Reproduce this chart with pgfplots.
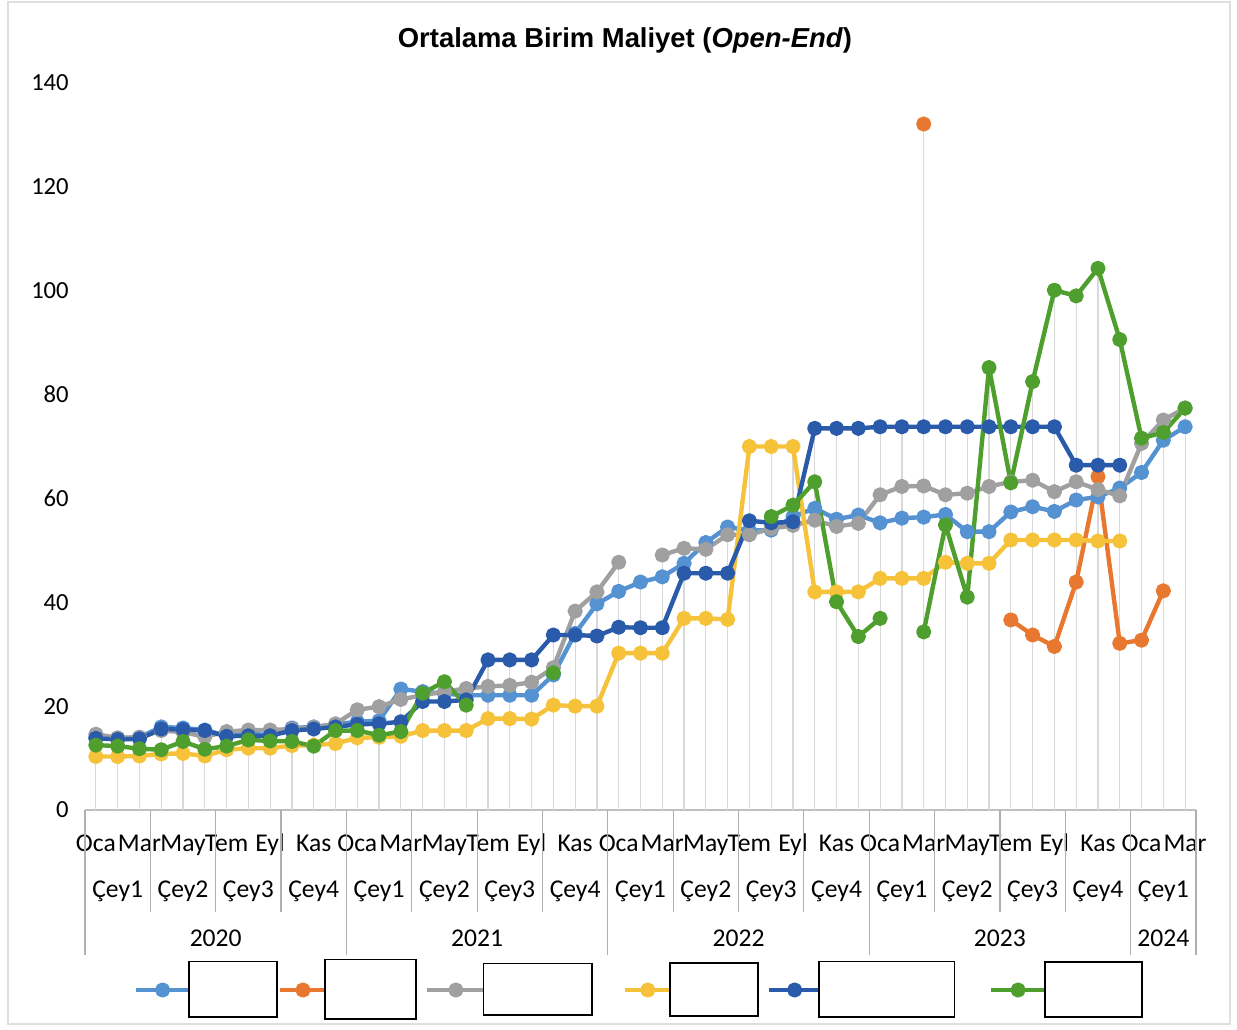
\documentclass[border=0pt]{standalone}
\usepackage{fontspec}
\setmainfont{Carlito}
\newfontfamily\titlefont{Liberation Sans}
\usepackage{pgfplots}
\usepackage{pgfplotstable}
\pgfplotsset{compat=1.18}
\pgfplotsset{limg/.style n args={2}{legend image code/.code={\draw[mark repeat=2,mark phase=2,##1] plot coordinates {(0pt,0pt) (#1,0pt) (#2,0pt)};}}}
\definecolor{cLB}{HTML}{5592D2}
\definecolor{cOR}{HTML}{E8782F}
\definecolor{cGR}{HTML}{A0A0A0}
\definecolor{cYE}{HTML}{F5C23A}
\definecolor{cDB}{HTML}{2A5BAA}
\definecolor{cGN}{HTML}{4F9F2F}
\definecolor{sepcol}{HTML}{B0B0B0}
\newcommand\lblfont{\fontsize{12.8}{15}\selectfont}
\newcommand\qq[2]{\node[anchor=base,font=\lblfont] at ([yshift=-43.5pt]axis cs:#1,0) {#2};}
\newcommand\yy[2]{\node[anchor=base,font=\lblfont] at ([yshift=-68pt]axis cs:#1,0) {#2};}
\newcommand\lbox[2]{{\setlength\fboxsep{0pt}\setlength\fboxrule{0.9pt}\fbox{\rule{0pt}{#2}\hspace{#1}}}}
\pgfplotstableread{
m lb or gr ye db gn mx
0 14.0 nan 14.6 10.3 13.8 12.5 14.6
1 13.8 nan 13.9 10.3 13.6 12.3 13.9
2 14.0 nan 14.0 10.4 13.7 11.8 14.0
3 16.0 nan 15.3 10.8 15.6 11.6 16.0
4 15.8 nan 15.0 10.9 15.5 13.2 15.8
5 15.4 nan 14.1 10.4 15.3 11.7 15.4
6 14.3 nan 15.1 11.6 14.2 12.3 15.1
7 14.6 nan 15.4 11.9 14.3 13.5 15.4
8 14.5 nan 15.4 11.9 14.3 13.3 15.4
9 15.8 nan 15.6 12.4 15.3 13.2 15.8
10 16.0 nan 15.9 12.5 15.6 12.3 16.0
11 16.5 nan 16.6 12.8 16.0 15.3 16.6
12 17.0 nan 19.3 13.9 16.5 15.3 19.3
13 17.2 nan 19.9 14.0 16.6 14.4 19.9
14 23.3 nan 21.3 14.2 17.0 15.1 23.3
15 22.8 nan 22.1 15.3 20.9 22.5 22.8
16 22.4 nan 22.8 15.3 20.9 24.7 24.7
17 22.1 nan 23.4 15.3 21.2 20.2 23.4
18 22.1 nan 23.8 17.6 28.9 nan 28.9
19 22.1 nan 24.0 17.6 28.9 nan 28.9
20 22.1 nan 24.6 17.5 28.9 nan 28.9
21 26.0 nan 27.4 20.2 33.7 26.4 33.7
22 34.0 nan 38.3 20.0 33.7 nan 38.3
23 39.7 nan 42.0 20.0 33.5 nan 42.0
24 42.1 nan 47.7 30.2 35.2 nan 47.7
25 43.9 nan nan 30.2 35.1 nan 43.9
26 44.9 nan 49.1 30.2 35.1 nan 49.1
27 47.5 nan 50.4 36.9 45.6 nan 50.4
28 51.5 nan 50.2 36.9 45.6 nan 51.5
29 54.5 nan 53.0 36.7 45.6 nan 54.5
30 53.8 nan 53.0 70.0 55.7 nan 70.0
31 53.9 nan 54.2 70.0 55.3 56.5 70.0
32 56.5 nan 54.8 70.0 55.5 58.7 70.0
33 58.1 nan 55.8 42.0 73.5 63.2 73.5
34 56.0 nan 54.6 42.0 73.5 40.1 73.5
35 56.8 nan 55.2 42.0 73.5 33.4 73.5
36 55.3 nan 60.7 44.6 73.8 36.9 73.8
37 56.2 nan 62.3 44.6 73.8 nan 73.8
38 56.4 132.1 62.4 44.6 73.8 34.3 132.1
39 56.9 nan 60.7 47.7 73.8 54.9 73.8
40 53.6 nan 61.0 47.5 73.8 41.0 73.8
41 53.6 nan 62.3 47.5 73.8 85.2 85.2
42 57.4 36.6 63.2 52.0 73.8 63.0 73.8
43 58.4 33.7 63.5 52.0 73.8 82.5 82.5
44 57.5 31.5 61.3 52.0 73.8 100.1 100.1
45 59.7 43.9 63.2 52.0 66.4 99.0 99.0
46 60.3 64.2 61.7 51.8 66.4 104.3 104.3
47 62.0 32.1 60.5 51.8 66.4 90.6 90.6
48 65.0 32.7 70.6 nan nan 71.6 71.6
49 71.2 42.2 75.1 nan nan 72.7 75.1
50 73.8 nan 77.4 nan nan 77.4 77.4
}\data
\begin{document}
\begin{tikzpicture}
\path[use as bounding box] (-42.5pt,-109.5pt) rectangle (576pt,405pt);
\draw[gray!25, line width=0.6pt] (-38.5pt,-107pt) rectangle (572.5pt,404pt);
\begin{axis}[
  at={(0,0)}, anchor=south west,
  scale only axis, width=555.5pt, height=363.5pt,
  xmin=-0.5, xmax=50.5, ymin=0, ymax=140,
  axis x line=bottom, axis y line=left,
  axis line style={-},
  x axis line style={draw=gray!50, line width=0.6pt},
  y axis line style={draw=none},
  ytick={0,20,...,140},
  ytick style={draw=none}, xtick style={draw=none},
  /pgf/number format/assume math mode=true,
  yticklabel style={font=\fontsize{12.3}{14}\selectfont, anchor=east, xshift=-2.5pt},
  xtick={0,2,...,50},
  xticklabels={Oca,Mar,May,Tem,Eyl,Kas,Oca,Mar,May,Tem,Eyl,Kas,Oca,Mar,May,Tem,Eyl,Kas,Oca,Mar,May,Tem,Eyl,Kas,Oca,Mar},
  xticklabel style={font=\lblfont, anchor=base, yshift=-18.5pt},
  clip=false,
  unbounded coords=jump,
  sty/.style={line width=2.2pt, mark=*, mark size=2.7pt, line join=round, mark options={solid}},
  legend columns=6,
  legend style={at={(axis description cs:0.0432,-0.2476)}, anchor=west, draw=none, fill=none,
    inner sep=0pt, column sep=0pt, nodes={inner sep=0pt},
    /tikz/every odd column/.style={column sep=-2pt},
    /tikz/column 2/.style={column sep=0pt},
    /tikz/column 4/.style={column sep=4pt},
    /tikz/column 6/.style={column sep=15pt},
    /tikz/column 8/.style={column sep=4pt},
    /tikz/column 10/.style={column sep=16.5pt}},
]
\addplot[ycomb, no marks, draw=gray!30, line width=0.6pt, forget plot] table[x=m,y=mx]{\data};
\addplot[sty, cLB, limg={13.5pt}{27pt}] table[x=m,y=lb]{\data};
\addlegendentry{\lbox{43.2pt}{27pt}}
\addplot[sty, cOR, limg={11.5pt}{23pt}] table[x=m,y=or]{\data};
\addlegendentry{\lbox{44.7pt}{29pt}}
\addplot[sty, cGR, limg={14.25pt}{28.5pt}] table[x=m,y=gr]{\data};
\addlegendentry{\lbox{53.2pt}{25pt}}
\addplot[sty, cYE, limg={11.5pt}{23pt}] table[x=m,y=ye]{\data};
\addlegendentry{\lbox{43.2pt}{25.5pt}}
\addplot[sty, cDB, limg={12.75pt}{25.5pt}] table[x=m,y=db]{\data};
\addlegendentry{\lbox{66.7pt}{27pt}}
\addplot[sty, cGN, limg={13.75pt}{27.5pt}] table[x=m,y=gn]{\data};
\addlegendentry{\lbox{47.7pt}{26.5pt}}
\pgfplotsinvokeforeach{2.5,5.5,8.5,14.5,17.5,20.5,26.5,29.5,32.5,38.5,41.5,44.5}{
  \draw[sepcol, line width=0.6pt] (axis cs:#1,0) -- ([yshift=-51pt]axis cs:#1,0);}
\pgfplotsinvokeforeach{-0.5,11.5,23.5,35.5,47.5,50.5}{
  \draw[sepcol, line width=0.6pt] (axis cs:#1,0) -- ([yshift=-72.5pt]axis cs:#1,0);}
\qq{1}{Çey1}\qq{4}{Çey2}\qq{7}{Çey3}\qq{10}{Çey4}
\qq{13}{Çey1}\qq{16}{Çey2}\qq{19}{Çey3}\qq{22}{Çey4}
\qq{25}{Çey1}\qq{28}{Çey2}\qq{31}{Çey3}\qq{34}{Çey4}
\qq{37}{Çey1}\qq{40}{Çey2}\qq{43}{Çey3}\qq{46}{Çey4}
\qq{49}{Çey1}
\yy{5.5}{2020}\yy{17.5}{2021}\yy{29.5}{2022}\yy{41.5}{2023}\yy{49}{2024}
\end{axis}
\node[anchor=base, font=\fontsize{13.7}{16}\selectfont\titlefont\bfseries] at (270pt,381pt) {Ortalama Birim Maliyet (\textit{Open-End})};
\end{tikzpicture}
\end{document}
